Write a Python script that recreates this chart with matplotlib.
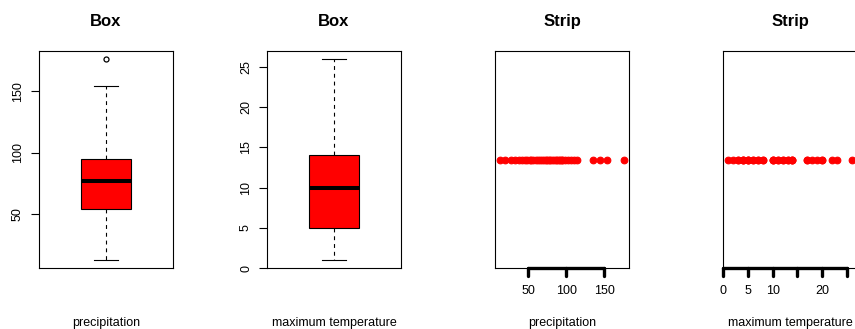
"""
Box and strip charts of precipitation / maximum temperature
"""
import numpy as np
import matplotlib
matplotlib.use('Agg')
import matplotlib.pyplot as plt
import matplotlib.transforms as mtransforms

precipitation = [13, 20, 27, 33, 38, 42, 46, 49, 52, 54.4,
                 57, 60, 63, 66, 68, 71, 73, 75, 76.8,
                 79, 82, 84, 86, 88, 90, 92, 94, 95.1,
                 98, 102, 106, 110, 114, 135, 144, 154, 176]
max_temperature = [1, 2, 3, 3, 4, 4, 4, 5, 5, 5,
                   6, 6, 7, 7, 8, 8, 10, 10, 10,
                   11, 11, 12, 12, 13, 13, 14, 14, 14,
                   17, 17, 18, 19, 20, 20, 22, 23, 26]

series_names = ['precipitation', 'maximum temperature']
precip_ticks = [50, 100, 150]
precip_ticklabels = ['50', '100', '150']
temp_ticks = [0, 5, 10, 15, 20, 25]
temp_box_ticklabels = ['0', '5', '10', '15', '20', '25']
temp_strip_ticklabels = ['0', '5', '10', '', '20', '']

plt.rcParams['font.family'] = ['Liberation Sans', 'DejaVu Sans']

W, H = 855, 329
fig = plt.figure(figsize=(W / 100, H / 100), dpi=100)


def r_range(vals):
    # R style axis range: data range plus 4% on both sides
    lo, hi = min(vals), max(vals)
    r = hi - lo
    return lo - 0.04 * r, hi + 0.04 * r


def add_panel(left_px):
    ax = fig.add_axes([left_px / W, (H - 268) / H, 134 / W, 217 / H])
    for s in ax.spines.values():
        s.set_linewidth(0.8)
        s.set_color('black')
    return ax


def finish(ax, title, xlabel):
    ax.set_title(title, fontsize=12, fontweight='bold', pad=18)
    ax.text(0.5, -0.267, xlabel, transform=ax.transAxes, ha='center',
            va='baseline', fontsize=9)


def box_panel(left_px, vals, ticks, labels, xlabel):
    ax = add_panel(left_px)
    ax.boxplot(vals, positions=[1], widths=0.4, capwidths=0.2, patch_artist=True,
               boxprops=dict(facecolor='red', edgecolor='black', linewidth=0.8),
               medianprops=dict(color='black', linewidth=2.9),
               whiskerprops=dict(color='black', linewidth=0.8, linestyle=(0, (3.5, 3.5))),
               capprops=dict(color='black', linewidth=0.8),
               flierprops=dict(marker='o', markerfacecolor='none', markeredgecolor='black',
                               markersize=3.6, markeredgewidth=0.9))
    ax.set_xlim(0.46, 1.54)
    ax.set_ylim(r_range(vals))
    ax.set_xticks([])
    ax.set_yticks(ticks, labels)
    ax.tick_params(axis='y', length=5.8, width=0.8, labelsize=9, labelrotation=90, pad=5)
    for lbl in ax.get_yticklabels():
        lbl.set_va('center')
    finish(ax, 'Box', xlabel)


def strip_panel(left_px, vals, ticks, labels, xlabel):
    ax = add_panel(left_px)
    ax.plot(vals, np.ones(len(vals)), linestyle='none', marker='o',
            markerfacecolor='red', markeredgecolor='red', markersize=4.8,
            markeredgewidth=0.8)
    ax.set_ylim(0, 2)
    ax.set_xlim(r_range(vals))
    ax.set_yticks([])
    ax.set_xticks(ticks, labels)
    ax.tick_params(axis='x', length=0, labelsize=9, pad=12)
    # thick R-like axis: line from first to last tick, round-ended ticks
    trans = mtransforms.blended_transform_factory(ax.transData, ax.transAxes)
    ax.plot([ticks[0], ticks[-1]], [0, 0], transform=trans, color='black',
            linewidth=2.4, solid_capstyle='round', clip_on=False)
    for t in ticks:
        ax.plot([t, t], [0, -0.036], transform=trans, color='black',
                linewidth=2.4, solid_capstyle='round', clip_on=False)
    finish(ax, 'Strip', xlabel)


box_panel(39, precipitation, precip_ticks, precip_ticklabels, series_names[0])
box_panel(267, max_temperature, temp_ticks, temp_box_ticklabels, series_names[1])
strip_panel(495, precipitation, precip_ticks, precip_ticklabels, series_names[0])
strip_panel(723, max_temperature, temp_ticks, temp_strip_ticklabels, series_names[1])

fig.savefig('out.png', dpi=100)
